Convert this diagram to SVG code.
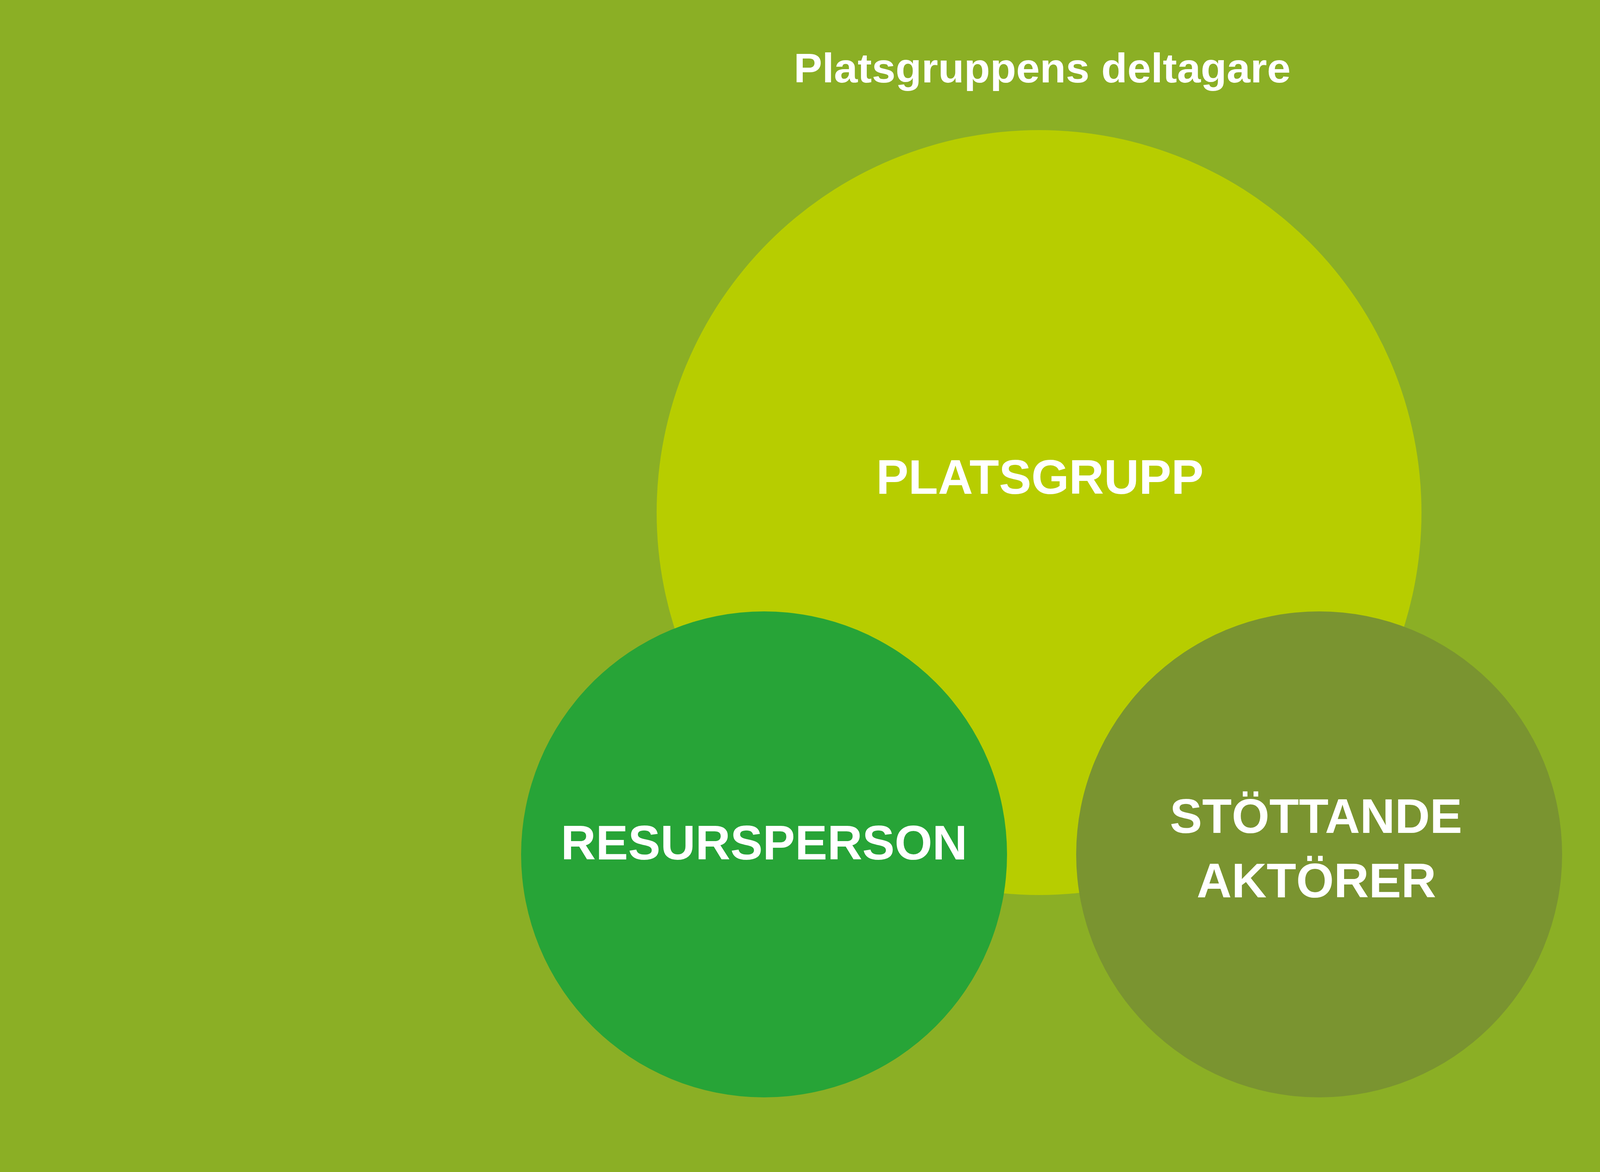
<svg xmlns="http://www.w3.org/2000/svg" width="5333" height="3000" viewBox="0 0 5333 3000">
<style>
text{font-family:"Liberation Sans",Arial,sans-serif;font-weight:bold;fill:#ffffff;text-anchor:middle}
.lbl{font-size:124px}
.title{font-size:105px}
</style>
<rect x="0" y="0" width="5333" height="3000" fill="#8BAF25"/>
<text class="title" x="2668" y="211" textLength="1272" lengthAdjust="spacingAndGlyphs">Platsgruppens deltagare</text>
<g id="platsgrupp">
<circle cx="2660" cy="1312" r="979" fill="#B7CD00"/>
<text class="lbl" x="2662" y="1264">PLATSGRUPP</text>
</g>
<g id="resursperson">
<circle cx="1956" cy="2187" r="622" fill="#27A437"/>
<text class="lbl" x="1956" y="2200">RESURSPERSON</text>
</g>
<g id="stottande">
<circle cx="3377" cy="2187" r="622" fill="#7A9430"/>
<text class="lbl" x="3369" y="2132">STÖTTANDE</text>
<text class="lbl" x="3370" y="2297">AKTÖRER</text>
</g>
<g id="connectors"/>
</svg>
